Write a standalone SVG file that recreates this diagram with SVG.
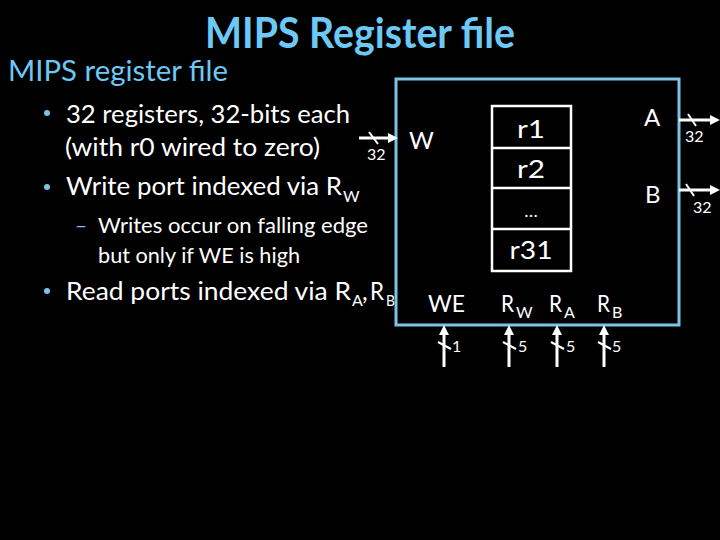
<svg xmlns="http://www.w3.org/2000/svg" width="720" height="540" viewBox="0 0 720 540">
<defs>
<style>
text{font-family:Lato,"Open Sans","Liberation Sans",sans-serif;fill:#ffffff}
.title{font-size:42px;font-weight:bold;fill:#6cc8f4}
.sub{font-size:28px;fill:#6cc8f4}
.b1{font-size:25px}
.b2{font-size:21px}
.s{font-size:16px}
.lbl{font-size:24px}
.reg{font-size:25px;text-anchor:middle}
.w{stroke:#ffffff;stroke-width:3;fill:none}
.box{fill:none;stroke:#7cc4e6;stroke-width:3}
.stack{fill:none;stroke:#ffffff;stroke-width:2.5}
</style>
<marker id="ah" viewBox="0 0 10 10" markerWidth="10" markerHeight="10" markerUnits="userSpaceOnUse" refX="4" refY="5" orient="auto">
<path d="M0,0 L10,5 L0,10 z" fill="#ffffff"/>
</marker>
</defs>
<rect width="720" height="540" fill="#000000"/>

<text class="title" x="205" y="48" textLength="310" lengthAdjust="spacingAndGlyphs">MIPS Register file</text>
<text class="sub" x="8" y="81" textLength="220" lengthAdjust="spacingAndGlyphs">MIPS register file</text>

<g id="bullets">
<circle cx="47" cy="113" r="3" fill="#7cc4e6"/>
<text class="b1" x="66" y="123" textLength="284" lengthAdjust="spacingAndGlyphs">32 registers, 32-bits each</text>
<text class="b1" x="65" y="156" textLength="255" lengthAdjust="spacingAndGlyphs">(with r0 wired to zero)</text>
<circle cx="47" cy="187" r="3" fill="#7cc4e6"/>
<text class="b1" x="66" y="195" textLength="276" lengthAdjust="spacingAndGlyphs">Write port indexed via R</text>
<text class="s" x="343" y="202">W</text>
<text class="b2" x="75" y="233" style="fill:#7cc4e6" textLength="12" lengthAdjust="spacingAndGlyphs">–</text>
<text class="b2" x="98" y="233" textLength="270" lengthAdjust="spacingAndGlyphs">Writes occur on falling edge</text>
<text class="b2" x="98" y="263" textLength="202" lengthAdjust="spacingAndGlyphs">but only if WE is high</text>
<circle cx="47" cy="291" r="3" fill="#7cc4e6"/>
<text class="b1" x="66" y="300" textLength="285" lengthAdjust="spacingAndGlyphs">Read ports indexed via R</text>
<text class="s" x="352" y="306">A</text>
<text class="b1" x="362" y="300">,</text>
<text class="b1" x="370" y="300" textLength="14" lengthAdjust="spacingAndGlyphs">R</text>
<text class="s" x="386" y="306" textLength="9" lengthAdjust="spacingAndGlyphs">B</text>
</g>

<g id="regfile">
<rect class="box" x="396" y="79" width="283" height="246"/>
<text class="lbl" x="409" y="149">W</text>
<text class="lbl" x="644" y="126">A</text>
<text class="lbl" x="645" y="203">B</text>
<text class="lbl" x="428" y="312" textLength="37" lengthAdjust="spacingAndGlyphs">WE</text>
<text class="lbl" x="501" y="312" textLength="13" lengthAdjust="spacingAndGlyphs">R</text>
<text class="s" x="516" y="318">W</text>
<text class="lbl" x="549" y="312" textLength="13" lengthAdjust="spacingAndGlyphs">R</text>
<text class="s" x="564" y="318">A</text>
<text class="lbl" x="597" y="312" textLength="13" lengthAdjust="spacingAndGlyphs">R</text>
<text class="s" x="612" y="318">B</text>
</g>

<g id="stack">
<rect class="stack" x="492" y="106" width="79" height="165"/>
<line class="stack" x1="492" y1="148" x2="571" y2="148"/>
<line class="stack" x1="492" y1="188" x2="571" y2="188"/>
<line class="stack" x1="492" y1="229" x2="571" y2="229"/>
<text class="reg" x="531" y="138" textLength="28" lengthAdjust="spacingAndGlyphs">r1</text>
<text class="reg" x="531" y="178" textLength="28" lengthAdjust="spacingAndGlyphs">r2</text>
<text class="reg" x="531" y="217" style="font-size:18px">…</text>
<text class="reg" x="531" y="259" textLength="43" lengthAdjust="spacingAndGlyphs">r31</text>
</g>

<g id="connectors">
<line class="w" x1="359" y1="138" x2="392" y2="138" marker-end="url(#ah)"/>
<line class="w" x1="369" y1="132" x2="378" y2="144" style="stroke-width:2"/>
<text class="s" x="367" y="160">32</text>

<line class="w" x1="679" y1="120" x2="714" y2="120" marker-end="url(#ah)"/>
<line class="w" x1="688" y1="114" x2="696" y2="126" style="stroke-width:2"/>
<text class="s" x="685" y="142">32</text>

<line class="w" x1="679" y1="190" x2="714" y2="190" marker-end="url(#ah)"/>
<line class="w" x1="686" y1="184" x2="694" y2="196" style="stroke-width:2"/>
<text class="s" x="693" y="213">32</text>

<line class="w" x1="444" y1="367" x2="444" y2="331" marker-end="url(#ah)"/>
<line class="w" x1="438" y1="342" x2="451" y2="349" style="stroke-width:2"/>
<text class="s" x="452" y="352">1</text>

<line class="w" x1="509" y1="367" x2="509" y2="331" marker-end="url(#ah)"/>
<line class="w" x1="503" y1="342" x2="516" y2="349" style="stroke-width:2"/>
<text class="s" x="518" y="352">5</text>

<line class="w" x1="557" y1="367" x2="557" y2="331" marker-end="url(#ah)"/>
<line class="w" x1="551" y1="342" x2="564" y2="349" style="stroke-width:2"/>
<text class="s" x="566" y="352">5</text>

<line class="w" x1="604" y1="367" x2="604" y2="331" marker-end="url(#ah)"/>
<line class="w" x1="598" y1="342" x2="611" y2="349" style="stroke-width:2"/>
<text class="s" x="612" y="352">5</text>
</g>
</svg>
